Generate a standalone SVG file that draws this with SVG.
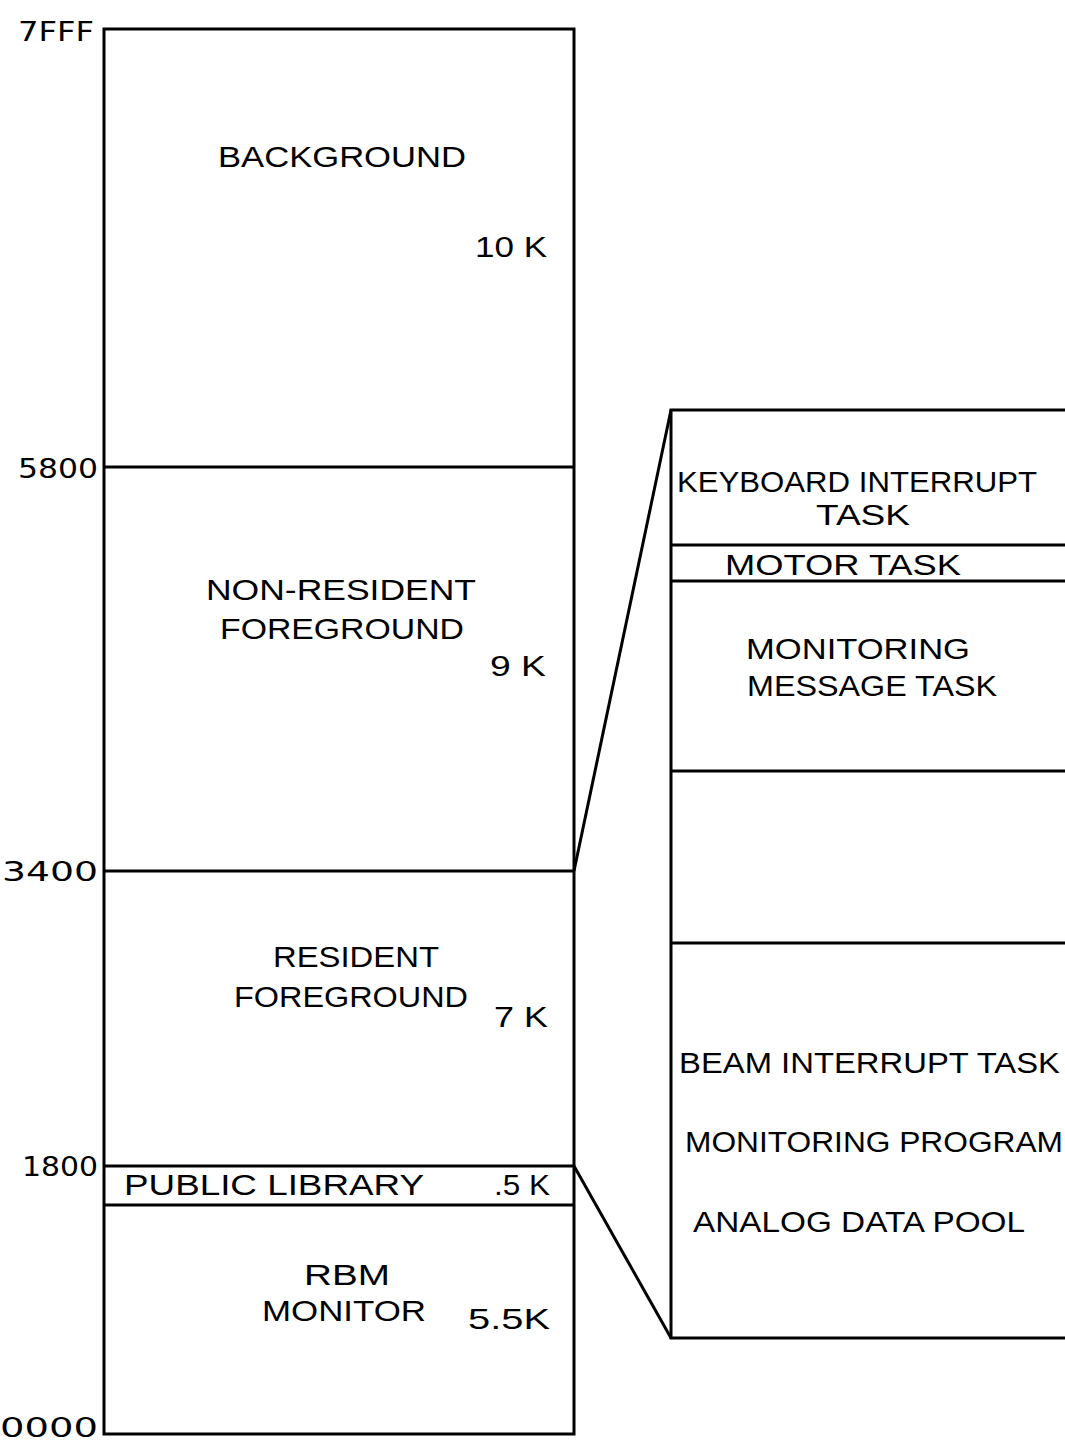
<svg xmlns="http://www.w3.org/2000/svg" width="1065" height="1445" viewBox="0 0 1065 1445">
<style>
text{font-family:"Liberation Sans",Arial,sans-serif;font-size:29px;fill:#000}
.ax{font-family:"DejaVu Sans",sans-serif;font-size:27px}
.ln{stroke:#000;stroke-width:3;fill:none}
</style>
<rect width="1065" height="1445" fill="#fff"/>
<g id="axis">
<text class="ax" x="18" y="41" textLength="76" lengthAdjust="spacingAndGlyphs">7FFF</text>
<text class="ax" x="18" y="478" textLength="80" lengthAdjust="spacingAndGlyphs">5800</text>
<text class="ax" x="2" y="881" textLength="96" lengthAdjust="spacingAndGlyphs">3400</text>
<text class="ax" x="22" y="1176" textLength="76" lengthAdjust="spacingAndGlyphs">1800</text>
<text class="ax" x="0" y="1437" textLength="98" lengthAdjust="spacingAndGlyphs">0000</text>
</g>
<g id="memory-map">
<rect class="ln" x="104" y="29" width="470" height="1405"/>
<line class="ln" x1="104" y1="467" x2="574" y2="467"/>
<line class="ln" x1="104" y1="871" x2="574" y2="871"/>
<line class="ln" x1="104" y1="1166" x2="574" y2="1166"/>
<line class="ln" x1="104" y1="1205" x2="574" y2="1205"/>
</g>
<g id="background">
<text x="218" y="167" textLength="248" lengthAdjust="spacingAndGlyphs">BACKGROUND</text>
<text x="475" y="257" textLength="72" lengthAdjust="spacingAndGlyphs">10 K</text>
</g>
<g id="non-resident">
<text x="206" y="600" textLength="270" lengthAdjust="spacingAndGlyphs">NON-RESIDENT</text>
<text x="220" y="639" textLength="244" lengthAdjust="spacingAndGlyphs">FOREGROUND</text>
<text x="490" y="676" textLength="56" lengthAdjust="spacingAndGlyphs">9 K</text>
</g>
<g id="resident">
<text x="273" y="967" textLength="166" lengthAdjust="spacingAndGlyphs">RESIDENT</text>
<text x="234" y="1007" textLength="234" lengthAdjust="spacingAndGlyphs">FOREGROUND</text>
<text x="494" y="1027" textLength="54" lengthAdjust="spacingAndGlyphs">7 K</text>
</g>
<g id="public-library">
<text x="124" y="1195" textLength="300" lengthAdjust="spacingAndGlyphs">PUBLIC LIBRARY</text>
<text x="494" y="1195" textLength="56" lengthAdjust="spacingAndGlyphs">.5 K</text>
</g>
<g id="rbm">
<text x="304" y="1285" textLength="86" lengthAdjust="spacingAndGlyphs">RBM</text>
<text x="262" y="1321" textLength="164" lengthAdjust="spacingAndGlyphs">MONITOR</text>
<text x="468" y="1329" textLength="82" lengthAdjust="spacingAndGlyphs">5.5K</text>
</g>
<g id="connectors">
<line class="ln" x1="574" y1="871" x2="671" y2="410"/>
<line class="ln" x1="574" y1="1166" x2="671" y2="1338"/>
</g>
<g id="expansion">
<polyline class="ln" points="1068,410 671,410 671,1338 1068,1338"/>
<line class="ln" x1="671" y1="545" x2="1068" y2="545"/>
<line class="ln" x1="671" y1="581" x2="1068" y2="581"/>
<line class="ln" x1="671" y1="771" x2="1068" y2="771"/>
<line class="ln" x1="671" y1="943" x2="1068" y2="943"/>
</g>
<g id="keyboard-task">
<text x="677" y="492" textLength="360" lengthAdjust="spacingAndGlyphs">KEYBOARD INTERRUPT</text>
<text x="816" y="525" textLength="94" lengthAdjust="spacingAndGlyphs">TASK</text>
</g>
<g id="motor-task">
<text x="725" y="575" textLength="236" lengthAdjust="spacingAndGlyphs">MOTOR TASK</text>
</g>
<g id="monitoring-message-task">
<text x="746" y="659" textLength="224" lengthAdjust="spacingAndGlyphs">MONITORING</text>
<text x="747" y="696" textLength="250" lengthAdjust="spacingAndGlyphs">MESSAGE TASK</text>
</g>
<g id="beam-task">
<text x="679" y="1073" textLength="381" lengthAdjust="spacingAndGlyphs">BEAM INTERRUPT TASK</text>
<text x="685" y="1152" textLength="378" lengthAdjust="spacingAndGlyphs">MONITORING PROGRAM</text>
<text x="693" y="1232" textLength="332" lengthAdjust="spacingAndGlyphs">ANALOG DATA POOL</text>
</g>
</svg>
